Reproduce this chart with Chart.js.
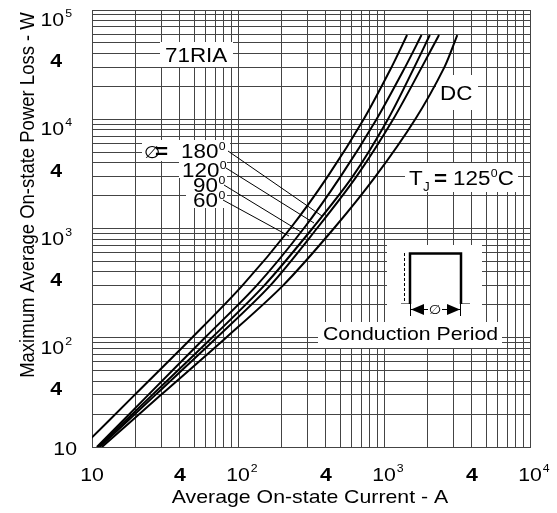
<!DOCTYPE html>
<html>
<head>
<meta charset="utf-8">
<script src="https://cdn.jsdelivr.net/npm/chart.js@4.4.0/dist/chart.umd.min.js"></script>
<style>
  html, body { margin: 0; padding: 0; background: #fff; }
  canvas { display: block; }
</style>
</head>
<body>
<canvas id="lossChart" width="557" height="513"></canvas>
<script>
// current (A) where each curve crosses these loss levels (W)
const lossLevels = [10, 30, 100, 300, 1000, 3000, 10000, 30000, 59000];
const current60 = [8.6, 19.6, 48.4, 107, 228, 412, 726, 1127, 1439];
const current90 = [10.8, 24.3, 59.3, 134, 282, 505, 889, 1396, 1807];
const current120 = [11, 25.9, 66.2, 151, 323, 611, 1064, 1614, 2061];
const current180 = [11.3, 27.2, 71.3, 166, 347, 649, 1156, 1816, 2382];
const currentDC = [11.7, 29.7, 82.8, 203, 453, 875, 1637, 2594, 3177];

const xTickValues = [10, 40, 100, 400, 1000, 4000, 10000];
const xTickLabels = ['10', '4', '10^2', '4', '10^3', '4', '10^4'];
const yTickValues = [10, 40, 100, 400, 1000, 4000, 10000, 40000, 100000];
const yTickLabels = ['10', '4', '10^2', '4', '10^3', '4', '10^4', '4', '10^5'];

const FONT = "'Liberation Sans', Arial, 'DejaVu Sans', sans-serif";
const GRID = '#444';
const SX = 1.12; // the scan is a bit stretched sideways

// every 1..9 line of each decade
function logGrid(min, max) {
    const ticks = [];
    for (let d = min; d < max; d *= 10) {
        for (let m = 1; m < 10; m++) ticks.push({ value: d * m });
    }
    ticks.push({ value: max });
    return ticks;
}

function txt(ctx, str, x, y, font, align, rot) {
    ctx.save();
    ctx.translate(x, y);
    ctx.scale(SX, 1);
    if (rot) ctx.rotate(rot);
    ctx.font = font;
    ctx.textAlign = align || 'left';
    ctx.textBaseline = rot ? 'middle' : 'alphabetic';
    ctx.fillStyle = '#000';
    ctx.fillText(str, 0, 0);
    ctx.restore();
}

function width(ctx, str, font) {
    ctx.font = font;
    return ctx.measureText(str).width * SX;
}

// text followed by a small raised "0" (degree mark as printed), returns end x
function withDeg(ctx, str, x, y, font) {
    const sf = '11px ' + FONT;
    const sx = x + width(ctx, str, font) + 0.5;
    txt(ctx, str, x, y, font);
    txt(ctx, '0', sx, y - 8, sf);
    return sx + width(ctx, '0', sf);
}

// "10^3" -> 10 with small raised 3
function powLabel(ctx, label, x, y, anchor) {
    const [base, sup] = label.split('^');
    const bf = (base === '4' ? 'bold ' : '') + '19px ' + FONT;
    const sf = '11px ' + FONT;
    const bw = width(ctx, base, bf);
    const sw = sup ? width(ctx, sup, sf) + 1 : 0;
    let left = anchor === 'center' ? x - bw / 2 : x - bw - sw;
    txt(ctx, base, left, y, bf);
    if (sup) txt(ctx, sup, left + bw + 1, y - 9, sf);
}

function series(current) {
    return lossLevels.map((w, i) => ({ x: current[i], y: w }));
}

const tickText = {
    id: 'tickText',
    afterDraw(chart) {
        const ctx = chart.ctx;
        const xs = chart.scales.x, ys = chart.scales.y;
        xTickValues.forEach((v, i) => {
            powLabel(ctx, xTickLabels[i], xs.getPixelForValue(v), 481, 'center');
        });
        yTickValues.forEach((v, i) => {
            const py = ys.getPixelForValue(v);
            const lab = yTickLabels[i];
            if (i === 0) powLabel(ctx, lab, 77, py + 8, 'right');
            else if (lab === '4') powLabel(ctx, lab, 62, py + 14, 'right');
            else powLabel(ctx, lab, 72, py + 16, 'right');
        });
        txt(ctx, 'Average On-state Current - A', 310, 503, '19px ' + FONT, 'center');
        txt(ctx, 'Maximum Average On-state Power Loss - W', 28, 195, '18.5px ' + FONT, 'center', -Math.PI / 2);
    }
};

const notes = {
    id: 'notes',
    beforeDatasetsDraw(chart) {
        const ctx = chart.ctx;
        ctx.save();
        ctx.fillStyle = '#fff';
        [[160, 42, 73, 25], [436, 75, 42, 35], [142, 140, 88, 21], [179, 161, 48, 17],
         [186, 177, 41, 16], [186, 193, 41, 15], [405, 163, 113, 29],
         [387, 245, 95, 78], [318, 322, 184, 26]].forEach(r => ctx.fillRect(r[0], r[1], r[2], r[3]));

        // leader lines from the angle labels to their curves
        ctx.strokeStyle = '#000';
        ctx.lineWidth = 1;
        [[228, 151, 322, 216], [226, 168, 314, 223], [224, 185, 301, 232], [223, 200, 289, 236]].forEach(l => {
            ctx.beginPath();
            ctx.moveTo(l[0], l[1]);
            ctx.lineTo(l[2], l[3]);
            ctx.stroke();
        });

        const f = '20px ' + FONT;
        const fb = 'bold 20px ' + FONT;
        txt(ctx, '71RIA', 165, 62, f);
        txt(ctx, 'DC', 440, 100, f);
        txt(ctx, '\u2205', 144, 158, '17px ' + FONT);
        txt(ctx, '=', 155, 158, fb);
        withDeg(ctx, '180', 181, 158, f);
        withDeg(ctx, '120', 182, 177, f);
        withDeg(ctx, '90', 193, 192, f);
        withDeg(ctx, '60', 193, 207, f);
        txt(ctx, 'T', 409, 185, f);
        txt(ctx, 'J', 423, 191, '12px ' + FONT);
        txt(ctx, '=', 434, 185, fb);
        const cx = withDeg(ctx, '125', 453, 185, f);
        txt(ctx, 'C', cx, 185, f);

        // conduction period sketch
        ctx.lineWidth = 1;
        ctx.setLineDash([3, 2]);
        ctx.beginPath();
        ctx.moveTo(404.5, 253);
        ctx.lineTo(404.5, 303);
        ctx.stroke();
        ctx.setLineDash([]);
        ctx.strokeStyle = '#777';
        ctx.beginPath();
        ctx.moveTo(401, 303.5); ctx.lineTo(410, 303.5);
        ctx.moveTo(461, 303.5); ctx.lineTo(470, 303.5);
        ctx.stroke();
        ctx.strokeStyle = '#000';
        ctx.lineWidth = 2.5;
        ctx.beginPath();
        ctx.moveTo(410, 304); ctx.lineTo(410, 253.5); ctx.lineTo(461, 253.5); ctx.lineTo(461, 304);
        ctx.stroke();
        ctx.lineWidth = 1;
        ctx.beginPath();
        ctx.moveTo(410, 309.5); ctx.lineTo(428, 309.5);
        ctx.moveTo(442, 309.5); ctx.lineTo(461, 309.5);
        ctx.moveTo(410.5, 304); ctx.lineTo(410.5, 316);
        ctx.moveTo(460.5, 304); ctx.lineTo(460.5, 316);
        ctx.stroke();
        ctx.fillStyle = '#000';
        ctx.beginPath();
        ctx.moveTo(411, 309.5); ctx.lineTo(424, 304); ctx.lineTo(424, 315); ctx.closePath();
        ctx.moveTo(460, 309.5); ctx.lineTo(447, 304); ctx.lineTo(447, 315); ctx.closePath();
        ctx.fill();
        txt(ctx, '\u2205', 435, 314, '13px ' + FONT, 'center');
        txt(ctx, 'Conduction Period', 323, 340, '19px ' + FONT);
        ctx.restore();
    }
};

const curveStyle = {
    borderColor: '#000',
    borderWidth: 2,
    pointRadius: 0,
    fill: false,
    tension: 0.3
};

new Chart(document.getElementById('lossChart'), {
    type: 'line',
    data: {
        datasets: [
            { label: '60', data: series(current60), ...curveStyle },
            { label: '90', data: series(current90), ...curveStyle },
            { label: '120', data: series(current120), ...curveStyle },
            { label: '180', data: series(current180), ...curveStyle },
            { label: 'DC', data: series(currentDC), ...curveStyle }
        ]
    },
    options: {
        responsive: false,
        animation: false,
        devicePixelRatio: 1,
        layout: { padding: { left: 92, right: 27, top: 10, bottom: 66 } },
        plugins: { legend: { display: false }, tooltip: { enabled: false } },
        scales: {
            x: {
                type: 'logarithmic',
                min: 10,
                max: 10000,
                afterBuildTicks: s => { s.ticks = logGrid(10, 10000); },
                ticks: { display: false },
                grid: { color: GRID, lineWidth: 1, drawTicks: false },
                border: { color: GRID, width: 1 }
            },
            y: {
                type: 'logarithmic',
                min: 10,
                max: 100000,
                afterBuildTicks: s => { s.ticks = logGrid(10, 100000); },
                ticks: { display: false },
                grid: { color: GRID, lineWidth: 1, drawTicks: false },
                border: { color: GRID, width: 1 }
            }
        }
    },
    plugins: [notes, tickText]
});
</script>
</body>
</html>
